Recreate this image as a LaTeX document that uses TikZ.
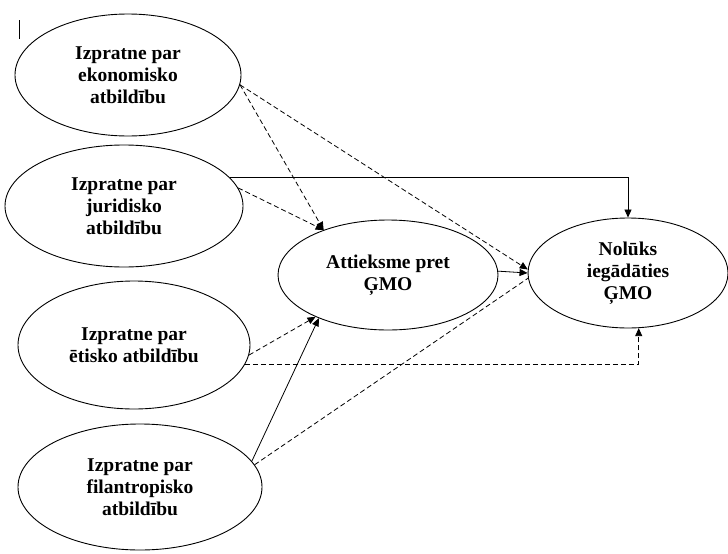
\documentclass[tikz,border=0pt]{standalone}
\usepackage{fontspec}
\setmainfont{Liberation Serif}
\usetikzlibrary{shapes.geometric,arrows.meta}
\begin{document}
\begin{tikzpicture}[x=1pt,y=-1pt,
  construct/.style={draw, ellipse, line width=0.9pt, inner sep=0pt, align=center,
    font=\fontsize{19.5}{22}\selectfont\bfseries},
  link/.style={line width=0.8pt, -{Triangle[length=8pt,width=7pt]}},
  dlink/.style={link, dash pattern=on 5pt off 3pt}]
\useasboundingbox (0,0) rectangle (728,554);
\fill[white] (0,0) rectangle (728,554);

% cursor mark
\draw[line width=1pt] (19,20) -- (19,39);

% constructs
\node[construct, minimum width=226pt, minimum height=122pt] (ek) at (128,75)
  {Izpratne par\\ekonomisko\\atbildību};
\node[construct, minimum width=238pt, minimum height=122pt] (jur) at (124,206)
  {Izpratne par\\juridisko\\atbildību};
\node[construct, minimum width=232pt, minimum height=128pt] (et) at (134,345)
  {Izpratne par\\ētisko atbildību};
\node[construct, minimum width=244pt, minimum height=126pt] (fil) at (140,487)
  {Izpratne par\\filantropisko\\atbildību};
\node[construct, minimum width=220pt, minimum height=110pt] (att) at (388,275)
  {Attieksme pret\\ĢMO};
\node[construct, minimum width=200pt, minimum height=110pt] (nol) at (628,273)
  {Nolūks\\iegādāties\\ĢMO};

% paths
\draw[dlink] (ek.-5) -- (att.145);
\draw[dlink] (ek.-5) -- (nol.178);
\draw[link] (jur.15) -| (nol.north);
\draw[dlink] (jur.9) -- (att.145);
\draw[link] (att.2) -- (nol.180);
\draw[dlink] (et.-5) -- (att.210);
\draw[dlink] (et.-10) -| (nol.-79);
\draw[link] (fil.13) -- (att.212);
\draw[dash pattern=on 5pt off 3pt, line width=0.8pt] (fil.11) -- (nol.183);
\end{tikzpicture}
\end{document}
